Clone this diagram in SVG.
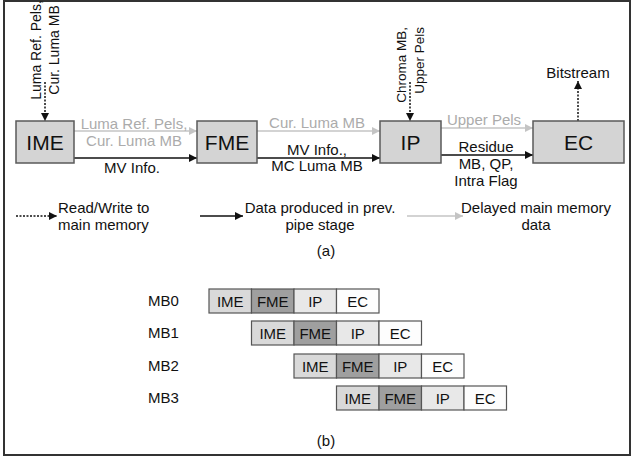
<svg xmlns="http://www.w3.org/2000/svg" width="632" height="463" viewBox="0 0 632 463">
<style>
text{font-family:"Liberation Sans",Arial,sans-serif;fill:#111}
.box{fill:#d4d4d4;stroke:#5a5a5a;stroke-width:1.5}
.big{font-size:21px;text-anchor:middle}
.lbl{font-size:15px}
.mid{text-anchor:middle}
.g{fill:#ababab}
.blk{stroke:#111;stroke-width:1.6;fill:none}
.gry{stroke:#c4c4c4;stroke-width:1.6;fill:none}
.dot{stroke:#111;stroke-width:1.5;stroke-dasharray:2 1.5;fill:none}
.c{stroke:#555;stroke-width:1.2}
.ime{fill:#d9d9d9}.fme{fill:#9f9f9f}.ip{fill:#e8e8e8}.ec{fill:#fdfdfd}
.ct{font-size:15px;text-anchor:middle}
</style>
<defs>
<marker id="ab" viewBox="0 0 10 10" refX="10" refY="5" markerWidth="9" markerHeight="8" markerUnits="userSpaceOnUse" orient="auto"><path d="M0,0L10,5L0,10z" fill="#111"/></marker>
<marker id="ag" viewBox="0 0 10 10" refX="10" refY="5" markerWidth="9" markerHeight="8" markerUnits="userSpaceOnUse" orient="auto"><path d="M0,0L10,5L0,10z" fill="#c4c4c4"/></marker>
</defs>
<rect x="0" y="0" width="632" height="463" fill="#fff"/>
<rect x="4" y="1" width="626" height="454" fill="none" stroke="#333" stroke-width="2"/>

<g id="connectors">
<path class="gry" d="M74,131H197" marker-end="url(#ag)"/>
<path class="blk" d="M74,158H197" marker-end="url(#ab)"/>
<path class="gry" d="M257,131H380" marker-end="url(#ag)"/>
<path class="blk" d="M257,158H380" marker-end="url(#ab)"/>
<path class="gry" d="M441,128H533" marker-end="url(#ag)"/>
<path class="blk" d="M441,155H533" marker-end="url(#ab)"/>
<path class="dot" d="M45,82V121" marker-end="url(#ab)"/>
<path class="dot" d="M410,82V121" marker-end="url(#ab)"/>
<path class="dot" d="M578,121V81" marker-end="url(#ab)"/>
<text class="lbl mid g" x="134" y="129">Luma Ref. Pels,</text>
<text class="lbl mid g" x="134" y="146">Cur. Luma MB</text>
<text class="lbl mid" x="132" y="173">MV Info.</text>
<text class="lbl mid g" x="317" y="128">Cur. Luma MB</text>
<text class="lbl mid" x="317" y="155">MV Info.,</text>
<text class="lbl mid" x="317" y="171">MC Luma MB</text>
<text class="lbl mid g" x="484" y="125">Upper Pels</text>
<text class="lbl mid" x="486" y="152">Residue</text>
<text class="lbl mid" x="486" y="169">MB, QP,</text>
<text class="lbl mid" x="486" y="186">Intra Flag</text>
<text class="mid" font-size="14" transform="translate(41,50) rotate(-90)">Luma Ref. Pels,</text>
<text class="mid" font-size="14" transform="translate(59,50) rotate(-90)">Cur. Luma MB</text>
<text font-size="13.5" text-anchor="end" transform="translate(406,27) rotate(-90)">Chroma MB,</text>
<text font-size="13.5" text-anchor="end" transform="translate(424,27) rotate(-90)">Upper Pels</text>
<text class="lbl mid" x="578" y="78">Bitstream</text>
</g>

<g id="IME"><rect class="box" x="16" y="121" width="58" height="42"/><text class="big" x="45" y="149.5">IME</text></g>
<g id="FME"><rect class="box" x="197" y="121" width="60" height="42"/><text class="big" x="227" y="149.5">FME</text></g>
<g id="IP"><rect class="box" x="380" y="121" width="61" height="42"/><text class="big" x="410.5" y="149.5">IP</text></g>
<g id="EC"><rect class="box" x="533" y="121" width="91" height="42"/><text class="big" x="578.5" y="149.5">EC</text></g>

<g id="legend">
<path class="dot" d="M16,216H57" marker-end="url(#ab)"/>
<text class="lbl" x="58" y="213">Read/Write to</text>
<text class="lbl" x="58" y="230">main memory</text>
<path class="blk" d="M200,216H243" marker-end="url(#ab)"/>
<text class="lbl mid" x="320" y="213">Data produced in prev.</text>
<text class="lbl mid" x="320" y="230">pipe stage</text>
<path class="gry" d="M407,216H463" marker-end="url(#ag)"/>
<text class="lbl mid" x="536" y="213">Delayed main memory</text>
<text class="lbl mid" x="536" y="230">data</text>
<text class="lbl mid" x="326" y="256">(a)</text>
</g>

<g id="pipeline">
<text class="lbl" x="148" y="306">MB0</text>
<text class="lbl" x="148" y="338">MB1</text>
<text class="lbl" x="148" y="371">MB2</text>
<text class="lbl" x="148" y="403">MB3</text>
<g id="row0" transform="translate(209,289)">
<rect class="c ime" x="0" y="0" width="42.5" height="24"/><rect class="c fme" x="42.5" y="0" width="42.5" height="24"/><rect class="c ip" x="85" y="0" width="42.5" height="24"/><rect class="c ec" x="127.5" y="0" width="42.5" height="24"/>
<text class="ct" x="21.25" y="17.5">IME</text><text class="ct" x="63.75" y="17.5">FME</text><text class="ct" x="106.25" y="17.5">IP</text><text class="ct" x="148.75" y="17.5">EC</text>
</g>
<g id="row1" transform="translate(251.5,321)">
<rect class="c ime" x="0" y="0" width="42.5" height="24"/><rect class="c fme" x="42.5" y="0" width="42.5" height="24"/><rect class="c ip" x="85" y="0" width="42.5" height="24"/><rect class="c ec" x="127.5" y="0" width="42.5" height="24"/>
<text class="ct" x="21.25" y="17.5">IME</text><text class="ct" x="63.75" y="17.5">FME</text><text class="ct" x="106.25" y="17.5">IP</text><text class="ct" x="148.75" y="17.5">EC</text>
</g>
<g id="row2" transform="translate(294,354)">
<rect class="c ime" x="0" y="0" width="42.5" height="24"/><rect class="c fme" x="42.5" y="0" width="42.5" height="24"/><rect class="c ip" x="85" y="0" width="42.5" height="24"/><rect class="c ec" x="127.5" y="0" width="42.5" height="24"/>
<text class="ct" x="21.25" y="17.5">IME</text><text class="ct" x="63.75" y="17.5">FME</text><text class="ct" x="106.25" y="17.5">IP</text><text class="ct" x="148.75" y="17.5">EC</text>
</g>
<g id="row3" transform="translate(336.5,386)">
<rect class="c ime" x="0" y="0" width="42.5" height="24"/><rect class="c fme" x="42.5" y="0" width="42.5" height="24"/><rect class="c ip" x="85" y="0" width="42.5" height="24"/><rect class="c ec" x="127.5" y="0" width="42.5" height="24"/>
<text class="ct" x="21.25" y="17.5">IME</text><text class="ct" x="63.75" y="17.5">FME</text><text class="ct" x="106.25" y="17.5">IP</text><text class="ct" x="148.75" y="17.5">EC</text>
</g>
<text class="lbl mid" x="326" y="446">(b)</text>
</g>
</svg>
